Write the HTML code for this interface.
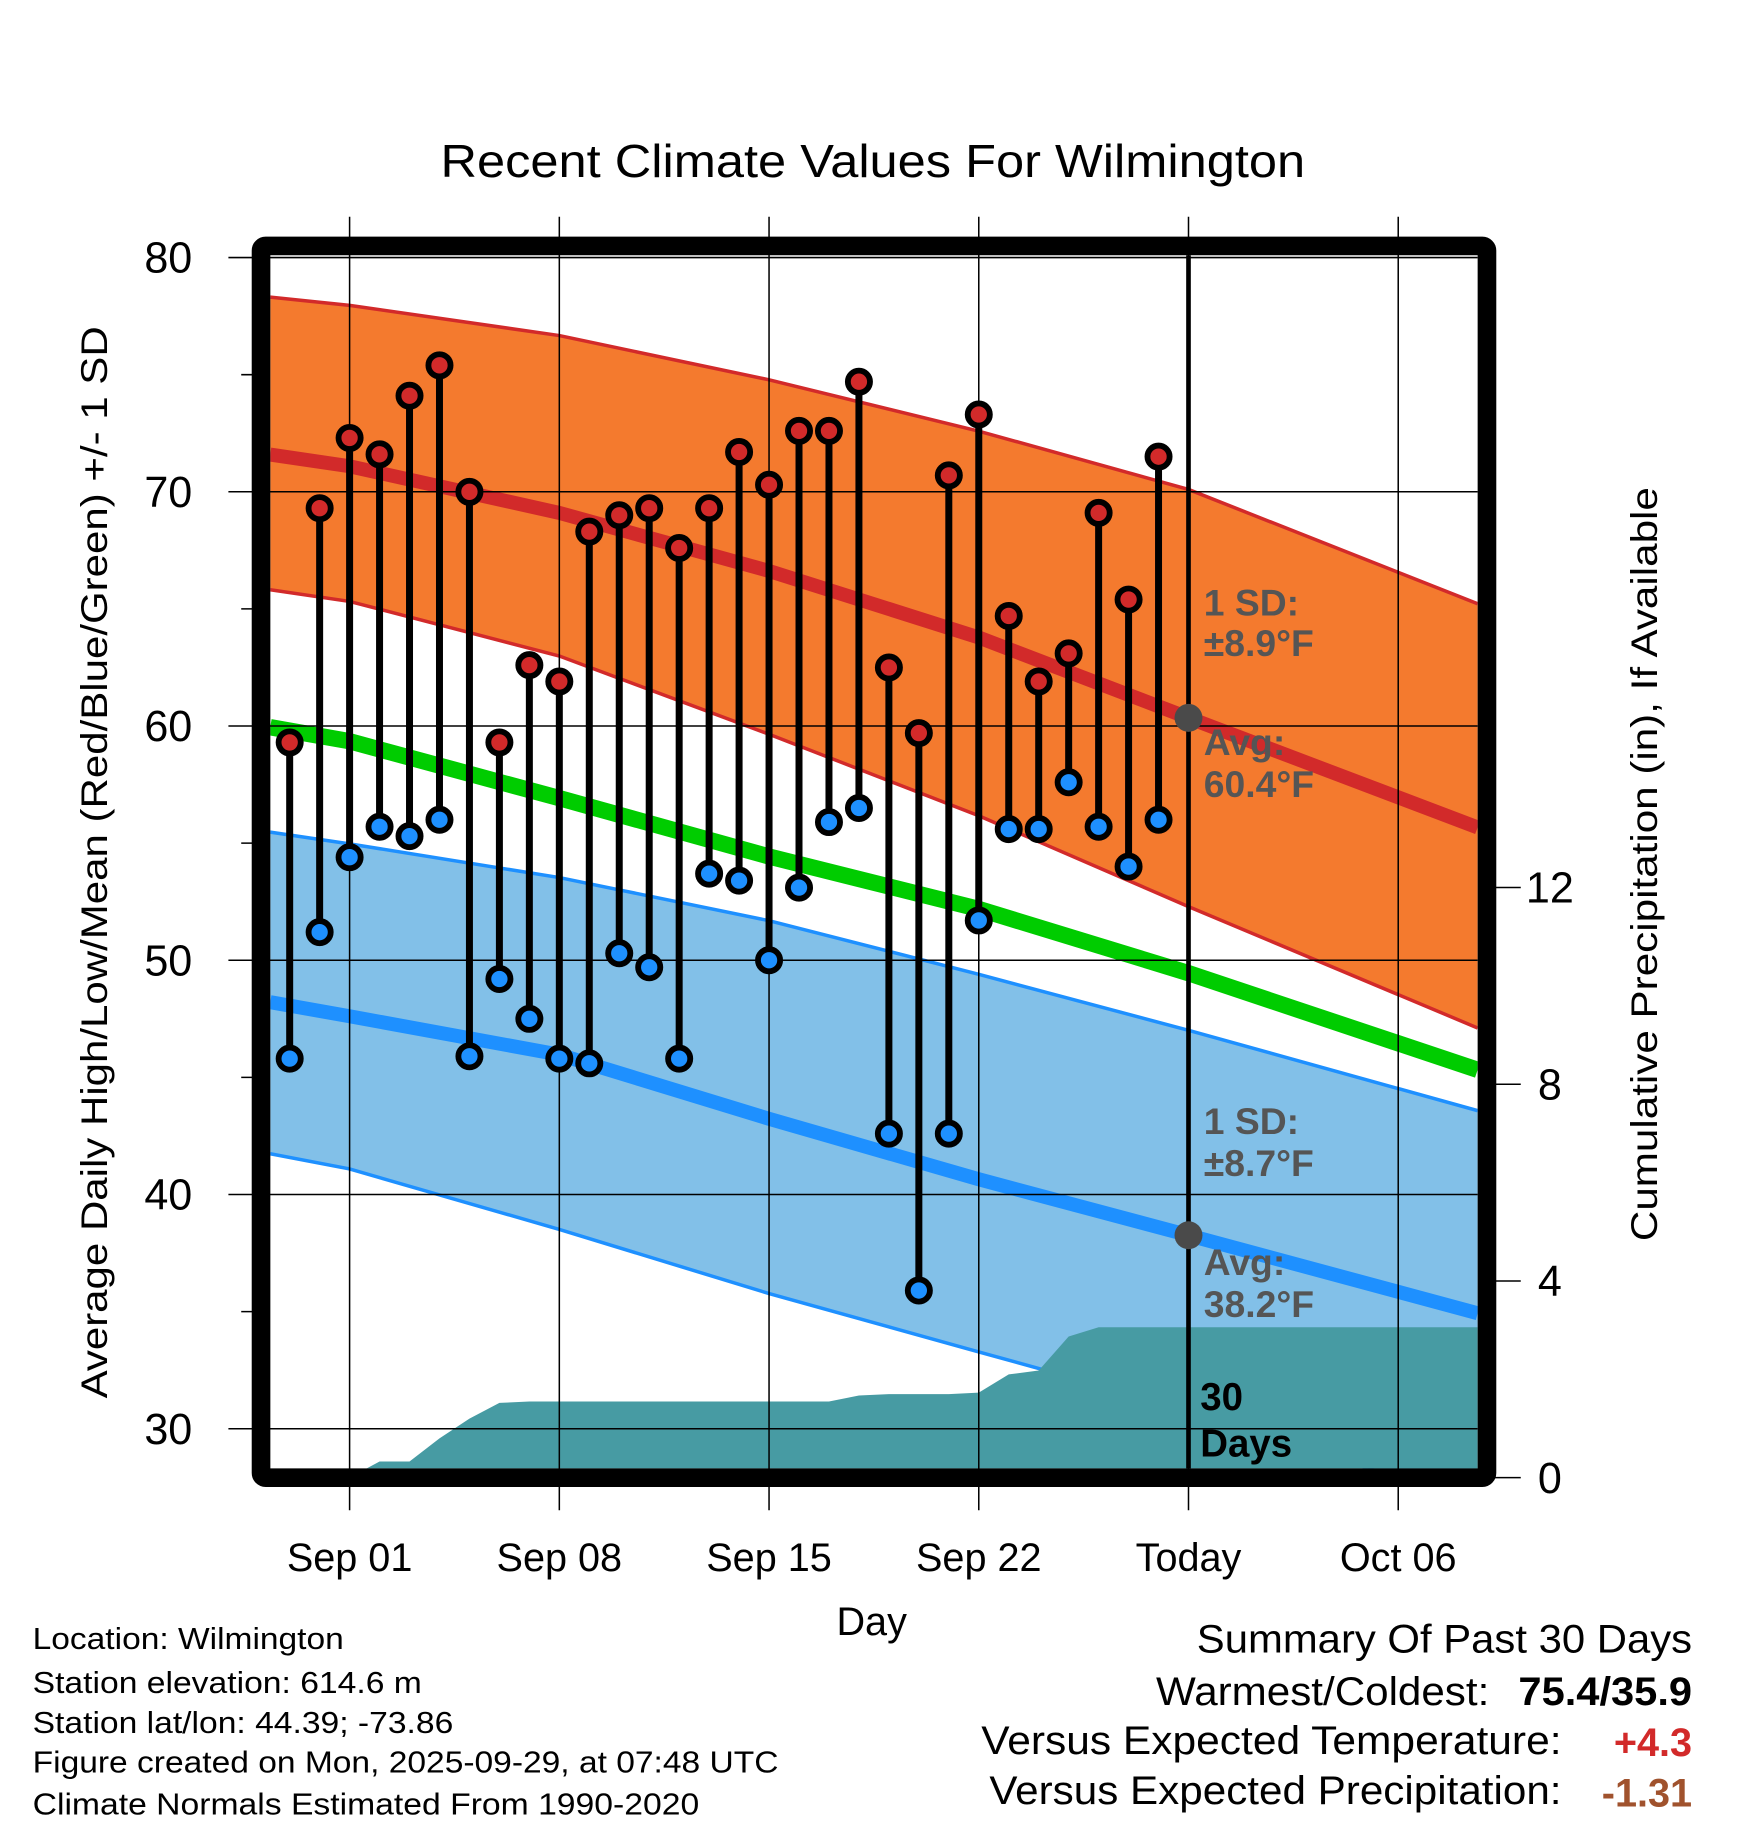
<!DOCTYPE html>
<html><head><meta charset="utf-8"><style>html,body{margin:0;padding:0;background:#fff}svg{display:block}text{font-family:"Liberation Sans",sans-serif}</style></head>
<body>
<svg id="chart" width="1748" height="1828" viewBox="0 0 1500 1568.6" xmlns="http://www.w3.org/2000/svg">
<defs><clipPath id="pc"><rect x="232" y="219" width="1036" height="1041"/></clipPath></defs>
<rect width="1500" height="1569" fill="#fff"/>
<text x="378" y="152" font-size="40" textLength="742" lengthAdjust="spacingAndGlyphs">Recent Climate Values For Wilmington</text>
<g id="plot" clip-path="url(#pc)"></g>
<g id="grid"></g>
<g id="marks"></g>
<rect x="224" y="211" width="1052" height="1057" fill="none" stroke="#000" stroke-width="16" rx="4"/>
<g id="axes"></g>
<text transform="translate(92,1200) rotate(-90)" font-size="32" textLength="920" lengthAdjust="spacingAndGlyphs">Average Daily High/Low/Mean (Red/Blue/Green) +/- 1 SD</text>
<text transform="translate(1422,1065) rotate(-90)" font-size="32" textLength="647" lengthAdjust="spacingAndGlyphs">Cumulative Precipitation (in), If Available</text>
<text x="748" y="1403" font-size="34" text-anchor="middle">Day</text>
<g font-size="26">
<text x="28" y="1415" textLength="267" lengthAdjust="spacingAndGlyphs">Location: Wilmington</text>
<text x="28" y="1453" textLength="334" lengthAdjust="spacingAndGlyphs">Station elevation: 614.6 m</text>
<text x="28" y="1487" textLength="361" lengthAdjust="spacingAndGlyphs">Station lat/lon: 44.39; -73.86</text>
<text x="28" y="1521" textLength="640" lengthAdjust="spacingAndGlyphs">Figure created on Mon, 2025-09-29, at 07:48 UTC</text>
<text x="28" y="1557" textLength="572" lengthAdjust="spacingAndGlyphs">Climate Normals Estimated From 1990-2020</text>
</g>
<g font-size="34">
<text x="1027" y="1418" textLength="425" lengthAdjust="spacingAndGlyphs">Summary Of Past 30 Days</text>
<text x="992" y="1463" textLength="286" lengthAdjust="spacingAndGlyphs">Warmest/Coldest:</text>
<text x="1303" y="1463" font-weight="bold" textLength="149" lengthAdjust="spacingAndGlyphs">75.4/35.9</text>
<text x="842" y="1505" textLength="498" lengthAdjust="spacingAndGlyphs">Versus Expected Temperature:</text>
<text x="1452" y="1507" text-anchor="end" font-weight="bold" fill="#d22a2a">+4.3</text>
<text x="849" y="1548" textLength="491" lengthAdjust="spacingAndGlyphs">Versus Expected Precipitation:</text>
<text x="1452" y="1550" text-anchor="end" font-weight="bold" fill="#a0522d">-1.31</text>
</g>
</svg>
<script>
const normDays=[-2.65,0,7,14,21,28,37.65];
const highTop=[78.31,77.96,76.67,74.78,72.59,70.10,65.22];
const highBot=[65.82,65.32,62.99,59.65,56.17,52.29,47.11];
const highMean=[71.59,71.09,69.10,66.62,63.78,60.35,55.67];
const meanTemp=[59.95,59.35,56.92,54.43,52.19,49.45,45.32];
const lowTop=[55.47,54.97,53.53,51.69,49.40,47.01,43.58];
const lowBot=[41.74,41.09,38.51,35.77,33.28,30.80,26.8];
const lowMean=[48.21,47.61,45.97,43.23,40.65,38.26,34.93];
const obsDays=[-2,-1,0,1,2,3,4,5,6,7,8,9,10,11,12,13,14,15,16,17,18,19,20,21,22,23,24,25,26,27];
const highs=[59.3,69.3,72.3,71.6,74.1,75.4,70.0,59.3,62.6,61.9,68.3,69.0,69.3,67.6,69.3,71.7,70.3,72.6,72.6,74.7,62.5,59.7,70.7,73.3,64.7,61.9,63.1,69.1,65.4,71.5];
const lows=[45.8,51.2,54.4,55.7,55.3,56.0,45.9,49.2,47.5,45.8,45.6,50.3,49.7,45.8,53.7,53.4,50.0,53.1,55.9,56.5,42.6,35.9,42.6,51.7,55.6,55.6,57.6,55.7,54.0,56.0];
const precip=[0,0,0,0.33,0.33,0.8,1.2,1.52,1.55,1.55,1.55,1.55,1.55,1.55,1.55,1.55,1.55,1.55,1.55,1.67,1.7,1.7,1.7,1.73,2.1,2.18,2.87,3.06,3.06,3.06];
const yTicks=[30,40,50,60,70,80];
const pTicks=[0,4,8,12];
const xTickDays=[0,7,14,21,28,35];
const xTickLabels=["Sep 01","Sep 08","Sep 15","Sep 22","Today","Oct 06"];

const X=d=>300+25.71*d, Y=t=>221+(80-t)*20.1, P=p=>1268-42.2*p;
const NS="http://www.w3.org/2000/svg";
function mk(tag,attrs,parent){const e=document.createElementNS(NS,tag);for(const k in attrs)e.setAttribute(k,attrs[k]);parent.appendChild(e);return e;}
const plot=document.getElementById('plot'),grid=document.getElementById('grid'),marks=document.getElementById('marks'),axes=document.getElementById('axes');
const line=a=>normDays.map((d,i)=>X(d)+','+Y(a[i])).join(' ');
function band(top,bot,fill,name){
  const pts=normDays.map((d,i)=>X(d)+','+Y(top[i])).concat(normDays.map((d,i)=>X(d)+','+Y(bot[i])).reverse());
  const e=mk('polygon',{points:pts.join(' '),fill:fill},plot);
  
  
}
band(highTop,highBot,'#f47a2e','high-sd-band');
band(lowTop,lowBot,'#82c0e8','low-sd-band');
[[highTop,'#d22a2a',3,'high-sd-upper'],[highBot,'#d22a2a',3,'high-sd-lower'],[lowTop,'#1e90ff',3,'low-sd-upper'],[lowBot,'#1e90ff',3,'low-sd-lower'],[highMean,'#d22a2a',12,'avg-high-line'],[meanTemp,'#00cc00',14,'avg-mean-line'],[lowMean,'#1e90ff',12,'avg-low-line']].forEach(s=>{
  const e=mk('polyline',{points:line(s[0]),fill:'none',stroke:s[1],'stroke-width':s[2]},plot);
  
  
});
{let pts=[X(obsDays[0]-0.65)+','+P(0)];
 obsDays.forEach((d,i)=>pts.push(X(d)+','+P(precip[i])));
 pts.push(X(37.65)+','+P(precip[precip.length-1]));pts.push(X(37.65)+','+P(0));
 const e=mk('polygon',{points:pts.join(' '),fill:'#479ba3'},plot);
 
 }
yTicks.forEach(t=>{
  const e=mk('line',{x1:196,x2:1268,y1:Y(t),y2:Y(t),stroke:'#000','stroke-width':1.3},grid);
  
  
  const l=mk('text',{x:165,y:Y(t)+13,'font-size':37,'text-anchor':'end'},axes);l.textContent=t;
  
  
});
[35,45,55,65,75].forEach(t=>mk('line',{x1:207,x2:224,y1:Y(t),y2:Y(t),stroke:'#000','stroke-width':1.3},axes));
xTickDays.forEach((d,i)=>{
  const e=mk('line',{x1:X(d),x2:X(d),y1:186,y2:1296,stroke:'#000','stroke-width':1.3},grid);
  
  
  const l=mk('text',{x:X(d),y:1348,'font-size':34,'text-anchor':'middle'},axes);l.textContent=xTickLabels[i];
  
  
});
pTicks.forEach(p=>{
  mk('line',{x1:1276,x2:1305,y1:P(p),y2:P(p),stroke:'#000','stroke-width':1.3},axes);
  const l=mk('text',{x:1330,y:P(p)+13,'font-size':37,'text-anchor':'middle'},axes);l.textContent=p;
  
  
});
{const e=mk('line',{x1:X(28),x2:X(28),y1:219,y2:1260,stroke:'#000','stroke-width':4},marks);
 
 }
obsDays.forEach((d,i)=>{
  const s=mk('line',{x1:X(d),x2:X(d),y1:Y(highs[i]),y2:Y(lows[i]),stroke:'#000','stroke-width':6},marks);
  
  
});
obsDays.forEach((d,i)=>{
  const h=mk('circle',{cx:X(d),cy:Y(highs[i]),r:9.5,fill:'#d22a2a',stroke:'#000','stroke-width':5},marks);
  
  
  const l=mk('circle',{cx:X(d),cy:Y(lows[i]),r:9.5,fill:'#1e90ff',stroke:'#000','stroke-width':5},marks);
  
  
});
[[highMean[5],'today-avg-high'],[lowMean[5],'today-avg-low']].forEach(a=>{
  const c=mk('circle',{cx:X(28),cy:Y(a[0]),r:12,fill:'#4a4a4a'},marks);
  
  
});
[["1 SD:",528],["±8.9°F",563],["Avg:",648],["60.4°F",684],["1 SD:",973],["±8.7°F",1009],["Avg:",1094],["38.2°F",1130]].forEach(a=>{
  const t=mk('text',{x:1033,y:a[1],'font-size':32,'font-weight':'bold',fill:'#555'},marks);t.textContent=a[0];
  
  
});
[["30",1210],["Days",1250]].forEach(a=>{
  const t=mk('text',{x:1030,y:a[1],'font-size':33,'font-weight':'bold',fill:'#000'},marks);t.textContent=a[0];
  
  
});
</script>
</body></html>
